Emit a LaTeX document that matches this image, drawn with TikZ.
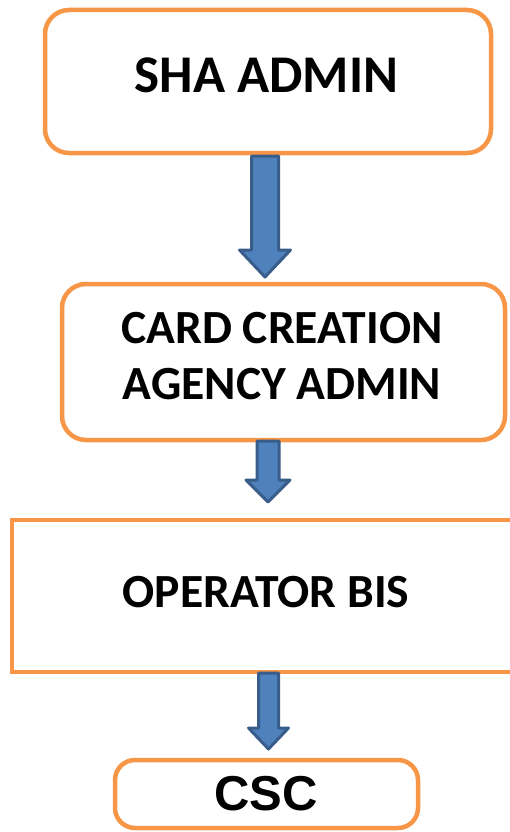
\documentclass[tikz,border=0pt]{standalone}
\usepackage{fontspec}
\setmainfont{Carlito}
\newfontfamily\arialfont{Liberation Sans}
\usetikzlibrary{calc}
\definecolor{boxorange}{HTML}{F79646}
\definecolor{arrfill}{HTML}{4F81BD}
\definecolor{arrline}{HTML}{385D8A}
\tikzset{
  rbox/.style={draw=boxorange, line width=4.5pt, rounded corners=24pt, fill=white, inner sep=0pt},
  sbox/.style={draw=boxorange, line width=4.5pt, fill=white, inner sep=0pt},
  lbl/.style={anchor=base, inner sep=0pt, font=\fontsize{47.6}{56}\selectfont\bfseries, align=center},
  blockarr/.style={draw=arrline, fill=arrfill, line width=3pt, line join=round}
}
\newcommand\blockarrow[5]{%
  \path[blockarr] let \p1=(#1), \p2=(#2) in
    (\x1-#3,\y1) -- (\x1+#3,\y1) -- (\x1+#3,\y2+#5) -- (\x1+#4,\y2+#5)
    -- (\x1,\y2) -- (\x1-#4,\y2+#5) -- (\x1-#3,\y2+#5) -- cycle;}
\begin{document}
\begin{tikzpicture}[x=1pt,y=-1pt]
\useasboundingbox (0,0) rectangle (510,832);
\clip (0,0) rectangle (510,832);
% boxes
\node[rbox, minimum width=446pt, minimum height=143pt] (b1) at (268,81.5) {};
\node[rbox, minimum width=443pt, minimum height=156pt] (b2) at (283.5,362) {};
\node[sbox, minimum width=530pt, minimum height=152pt] (b3) at (277,596) {};
\node[rbox, rounded corners=20pt, minimum width=303pt, minimum height=68pt] (b4) at (266.5,794) {};
% labels
\node[lbl, font=\fontsize{53}{60}\selectfont\bfseries] (t1) at (266.5,93) {SHA ADMIN};
\node[lbl] (t2) at (282,399) {CARD CREATION\\AGENCY ADMIN};
\node[lbl] (t3) at (266,607) {OPERATOR BIS};
\node[lbl, font=\fontsize{49}{60}\selectfont\arialfont\bfseries] (t4) at (266,810) {CSC};
% arrow end points
\coordinate (a1s) at (265,156);
\coordinate (a1e) at (265,277);
\coordinate (a2s) at (268,441);
\coordinate (a2e) at (268,502);
\coordinate (a3s) at (268.5,673);
\coordinate (a3e) at (268.5,749);
\blockarrow{a1s}{a1e}{13.5}{25.5}{27}
\blockarrow{a2s}{a2e}{11}{22}{22}
\blockarrow{a3s}{a3e}{10}{20}{21}
\end{tikzpicture}
\end{document}
